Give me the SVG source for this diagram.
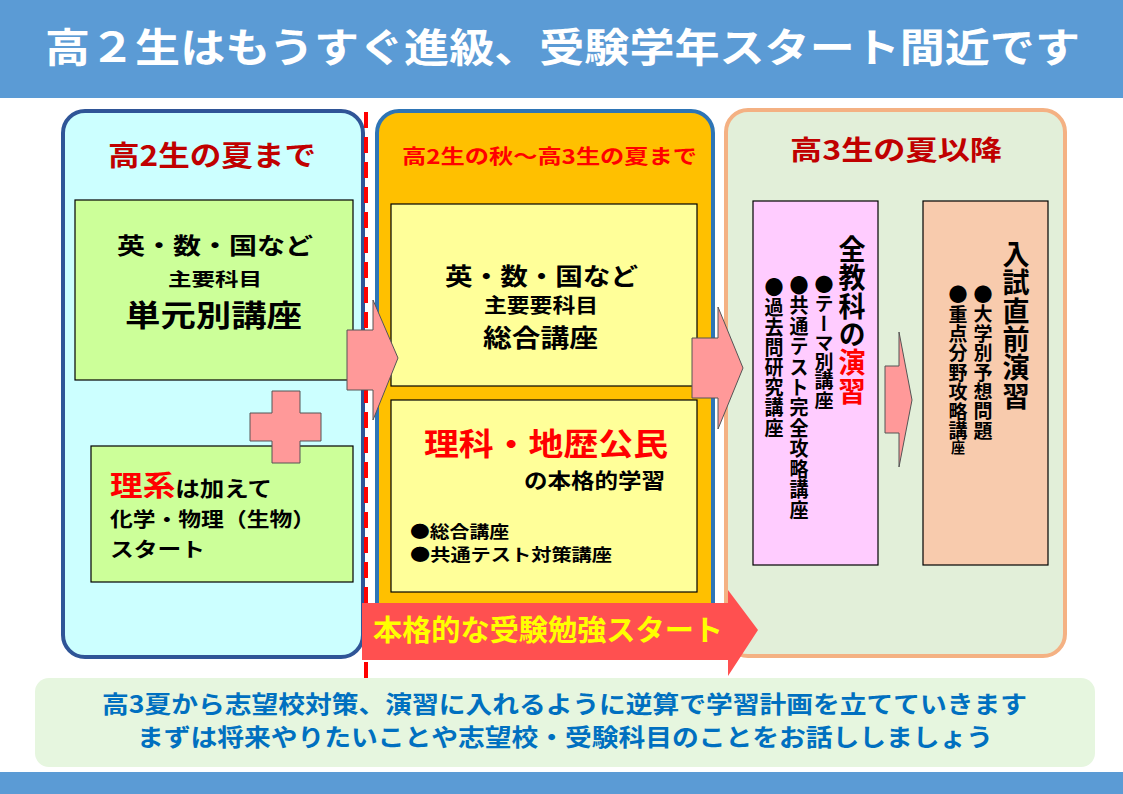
<svg xmlns="http://www.w3.org/2000/svg" width="1123" height="794" viewBox="0 0 1123 794">
<style>
text{font-family:"Noto Sans CJK JP","Noto Sans CJK SC",sans-serif;font-weight:bold}
.v{writing-mode:vertical-rl;text-orientation:mixed}
.bx{stroke:#000;stroke-width:1.2}
.ar{fill:#ff9999;stroke:#555;stroke-width:1}
</style>
<rect width="1123" height="794" fill="#fff"/>
<rect x="0" y="0" width="1123" height="98" fill="#5b9bd5"/>
<rect x="0" y="772" width="1123" height="22" fill="#5b9bd5"/>
<text x="45" y="62" font-size="40" fill="#fff" textLength="1035" lengthAdjust="spacingAndGlyphs">高２生はもうすぐ進級、受験学年スタート間近です</text>
<g id="left">
<rect x="63" y="111" width="300" height="546" rx="22" fill="#ccffff" stroke="#2f5597" stroke-width="4"/>
<text x="108" y="166" font-size="28" fill="#c00000" textLength="208" lengthAdjust="spacingAndGlyphs">高2生の夏まで</text>
<rect class="bx" x="75" y="200" width="278" height="180" fill="#ccff99"/>
<text x="117" y="254" font-size="23" textLength="196" lengthAdjust="spacingAndGlyphs">英・数・国など</text>
<text x="168" y="286" font-size="18" textLength="94" lengthAdjust="spacingAndGlyphs">主要科目</text>
<text x="125" y="326" font-size="30" textLength="177" lengthAdjust="spacingAndGlyphs">単元別講座</text>
<rect class="bx" x="91" y="446" width="262" height="136" fill="#ccff99"/>
<text x="110" y="496" font-size="21" textLength="162" lengthAdjust="spacingAndGlyphs"><tspan fill="#ff0000" font-size="28">理系</tspan>は加えて</text>
<text x="110" y="527" font-size="20" textLength="205" lengthAdjust="spacingAndGlyphs">化学・物理（生物）</text>
<text x="110" y="557" font-size="20" textLength="95" lengthAdjust="spacingAndGlyphs">スタート</text>
<path d="M272 391h28v22h21v28h-21v22h-28v-22h-22v-28h22z" fill="#ff9999" stroke="#555" stroke-width="1"/>
</g>
<g id="middle">
<rect x="377" y="111" width="336" height="539" rx="22" fill="#ffc000" stroke="#2e75b6" stroke-width="4"/>
<text x="402" y="164" font-size="20" fill="#ff0000" textLength="295" lengthAdjust="spacingAndGlyphs">高2生の秋～高3生の夏まで</text>
<rect class="bx" x="391" y="204" width="306" height="182" fill="#ffff99"/>
<text x="445" y="285" font-size="24" textLength="193" lengthAdjust="spacingAndGlyphs">英・数・国など</text>
<text x="484" y="313" font-size="20" textLength="114" lengthAdjust="spacingAndGlyphs">主要要科目</text>
<text x="483" y="347" font-size="25" textLength="115" lengthAdjust="spacingAndGlyphs">総合講座</text>
<rect class="bx" x="391" y="400" width="306" height="192" fill="#ffff99"/>
<text x="424" y="455" font-size="31" fill="#ff0000" textLength="244" lengthAdjust="spacingAndGlyphs">理科・地歴公民</text>
<text x="524" y="488" font-size="21" textLength="141" lengthAdjust="spacingAndGlyphs">の本格的学習</text>
<text x="410" y="538" font-size="17" textLength="99" lengthAdjust="spacingAndGlyphs">●総合講座</text>
<text x="410" y="561" font-size="17" textLength="202" lengthAdjust="spacingAndGlyphs">●共通テスト対策講座</text>
</g>
<g id="right">
<rect x="726" y="110" width="339" height="546" rx="22" fill="#e2efd9" stroke="#f4b183" stroke-width="4"/>
<text x="790" y="160" font-size="27" fill="#c00000" textLength="212" lengthAdjust="spacingAndGlyphs">高3生の夏以降</text>
<rect class="bx" x="753" y="201" width="125" height="364" fill="#ffccff"/>
<text class="v" x="852" y="235" font-size="27" textLength="170" lengthAdjust="spacingAndGlyphs">全教科の<tspan fill="#ff0000">演習</tspan></text>
<text class="v" x="824" y="275" font-size="19" textLength="135" lengthAdjust="spacingAndGlyphs">●テーマ別講座</text>
<text class="v" x="799" y="275" font-size="19" textLength="245" lengthAdjust="spacingAndGlyphs">●共通テスト完全攻略講座</text>
<text class="v" x="774" y="277" font-size="19" textLength="161" lengthAdjust="spacingAndGlyphs">●過去問研究講座</text>
<rect class="bx" x="923" y="201" width="125" height="364" fill="#f8cbad"/>
<text class="v" x="1016" y="240" font-size="27" textLength="170" lengthAdjust="spacingAndGlyphs">入試直前演習</text>
<text class="v" x="983" y="285" font-size="19" textLength="155" lengthAdjust="spacingAndGlyphs">●大学別予想問題</text>
<text class="v" x="958" y="285" font-size="19" textLength="170" lengthAdjust="spacingAndGlyphs">●重点分野攻略講<tspan font-size="14">座</tspan></text>
</g>
<g id="connectors">
<line x1="366" y1="112" x2="366" y2="680" stroke="#ff0000" stroke-width="4" stroke-dasharray="16,9"/>
<path class="ar" d="M347 330h26v-30l25 58-25 62v-30h-26z"/>
<path class="ar" d="M692 338h26v-31l25 61-25 61v-31h-26z"/>
<path class="ar" d="M885 366h14v-34l13 68-13 67v-34h-14z"/>
<path d="M362 603h366v-13l30 40-30 46v-16h-366z" fill="#ff5050"/>
<text x="373" y="641" font-size="29" fill="#ffff00" textLength="350" lengthAdjust="spacingAndGlyphs">本格的な受験勉強スタート</text>
</g>
<g id="note">
<rect x="35" y="678" width="1060" height="89" rx="14" fill="#e6f6df"/>
<text x="102" y="713" font-size="24" fill="#0070c0" textLength="925" lengthAdjust="spacingAndGlyphs">高3夏から志望校対策、演習に入れるように逆算で学習計画を立てていきます</text>
<text x="137" y="746" font-size="24" fill="#0070c0" textLength="856" lengthAdjust="spacingAndGlyphs">まずは将来やりたいことや志望校・受験科目のことをお話ししましょう</text>
</g>
</svg>
